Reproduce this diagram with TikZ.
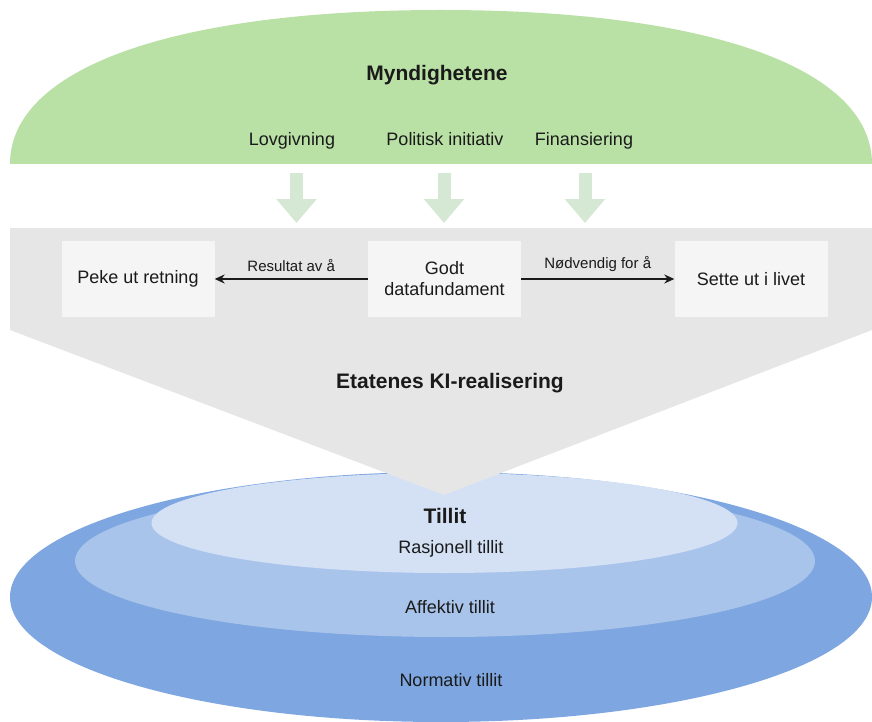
\documentclass[tikz,border=0pt]{standalone}
\usepackage{fontspec}
\setmainfont{Liberation Sans}
\usetikzlibrary{arrows.meta, positioning}
\definecolor{govgreen}{HTML}{B9E0A5}
\definecolor{flowgreen}{HTML}{D5E8D4}
\definecolor{bandgray}{HTML}{E6E6E6}
\definecolor{boxgray}{HTML}{F5F5F5}
\definecolor{trustA}{HTML}{7EA6E0}
\definecolor{trustB}{HTML}{A9C4EB}
\definecolor{trustC}{HTML}{D4E1F5}
\definecolor{ink}{HTML}{1A1A1A}

\begin{document}
\begin{tikzpicture}[x=1pt, y=-1pt]
\tikzstyle{every node}+=[text=ink]
\tikzstyle{txt}=[font=\fontsize{18}{21}\selectfont, align=center]
\tikzstyle{head}=[font=\fontsize{21}{25}\selectfont\bfseries]
\tikzstyle{lbl}=[font=\fontsize{15}{18}\selectfont]
\tikzstyle{means}=[txt, anchor=base]
\tikzstyle{stepbox}=[txt, fill=boxgray, minimum width=153pt, minimum height=76pt, inner sep=0pt]
\tikzstyle{push}=[draw=flowgreen, line width=13pt, -{Triangle[width=39pt, length=24pt]}]
\tikzstyle{link}=[draw=ink, line width=1.3pt, -{Stealth[length=10pt, width=9pt]}]
\useasboundingbox (0,0) rectangle (872,722);

% myndighetene
\fill [govgreen] (10,164) .. controls (10,68) and (174,10) .. (441,10)
  .. controls (708,10) and (872,68) .. (872,164) -- cycle;
\node [head] (myn) at (437,75) {Myndighetene};
\node [means] (lovg) at (292,146) {Lovgivning};
\node [means] (poli) at (445,146) {Politisk initiativ};
\node [means] (fin) at (584,146) {Finansiering};

\coordinate (lovgtop) at (296.5,173);
\coordinate (lovgend) at (296.5,223);
\coordinate (politop) at (444,173);
\coordinate (poliend) at (444,223);
\coordinate (fintop) at (585,173);
\coordinate (finend) at (585,223);
\draw [push] (lovgtop) -- (lovgend);
\draw [push] (politop) -- (poliend);
\draw [push] (fintop) -- (finend);

% tillit
\fill [trustA] (441,597) ellipse [x radius=431, y radius=125];
\fill [trustB] (445,561) ellipse [x radius=370, y radius=76];
\fill [trustC] (444.5,523) ellipse [x radius=293, y radius=50];

% etatene
\fill [bandgray] (10,228) rectangle (872,330);
\fill [bandgray] (10,330) -- (872,330) -- (444,495) -- cycle;
\node [stepbox] (peke) at (138,279) {Peke ut retning};
\node [stepbox] (godt) at (444.5,279) {Godt\\datafundament};
\node [stepbox] (sette) at (751,279) {Sette ut i livet};
\draw [link] (godt) -- (peke) node [lbl, midway, above=3pt] {Resultat av å};
\draw [link] (godt) -- (sette) node [lbl, midway, above=3pt] {Nødvendig for å};
\node [head] (real) at (450,383) {Etatenes KI-realisering};

\node [head] (tillit) at (445,516) {Tillit};
\node [txt] (rasj) at (451,549) {Rasjonell tillit};
\node [txt] (aff) at (450,607) {Affektiv tillit};
\node [txt] (norm) at (451,680) {Normativ tillit};
\end{tikzpicture}
\end{document}
